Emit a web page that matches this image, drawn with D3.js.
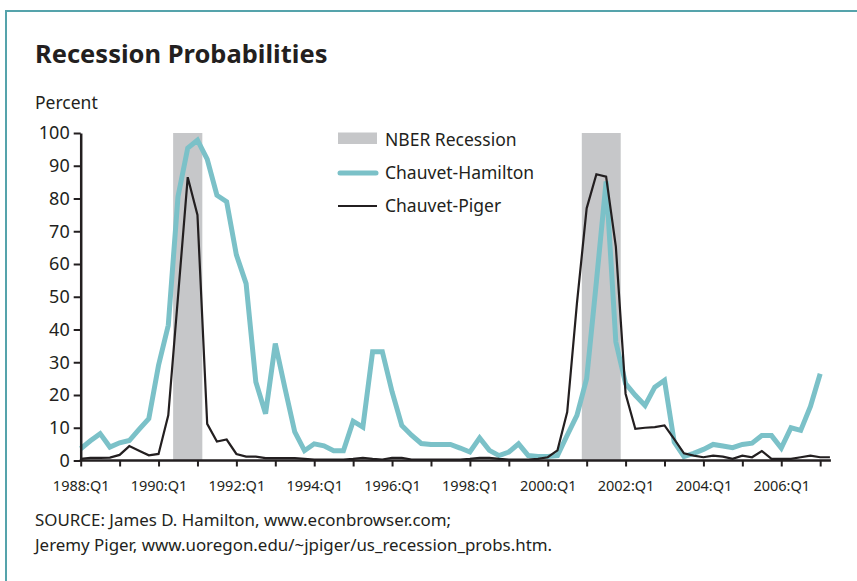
<!DOCTYPE html>
<html>
<head>
<meta charset="utf-8">
<script src="https://cdn.jsdelivr.net/npm/d3@7"></script>
<style>
  body { margin: 0; background: #fff; }
  text { font-family: "Noto Sans", "Open Sans", sans-serif; fill: #231f20; }
</style>
</head>
<body>
<script>
// quarterly recession probabilities, 1988:Q1 onward (percent)

var startYear = 1988;

var chauvetHamilton = [
  3.6, 6.0, 8.2, 4.1, 5.4, 6.1, 9.5, 12.8,      // 1988-1989
  29.1, 41.3, 80.6, 95.4, 97.8, 92, 81, 79,     // 1990-1991
  62.8, 54, 24, 14.3, 35.7, 22, 8.7, 3,         // 1992-1993
  5.1, 4.5, 3, 3, 12, 10.2, 33.2, 33.2,         // 1994-1995
  21, 10.7, 7.7, 5.2, 4.9, 4.9, 4.9, 3.8,       // 1996-1997
  2.6, 6.9, 3.1, 1.5, 2.6, 5.1, 1.5, 1.2,       // 1998-1999
  1.2, 1.5, 7.7, 13.8, 25, 54.6, 85.2, 36.2,    // 2000-2001
  23.5, 19.9, 16.8, 22.4, 24.5, 5.6, 1.2, 2.2,  // 2002-2003
  3.4, 4.9, 4.4, 3.9, 4.9, 5.3, 7.6, 7.6,       // 2004-2005
  3.8, 10, 9.2, 16.5, 26.5                      // 2006-2007:Q1
];

var chauvetPiger = [
  0.5, 0.8, 0.8, 0.9, 1.7, 4.4, 3.0, 1.6,
  2.0, 13.8, 50, 86.5, 75, 11.2, 5.8, 6.4,
  2.0, 1.2, 1.2, 0.7, 0.7, 0.7, 0.7, 0.5,
  0.3, 0.3, 0.3, 0.3, 0.5, 0.8, 0.5, 0.3,
  0.8, 0.8, 0.3, 0.3, 0.3, 0.3, 0.3, 0.3,
  0.5, 0.8, 0.8, 0.5, 0.3, 0.3, 0.3, 0.5,
  1.0, 3.1, 14.8, 48, 77, 87.4, 86.7, 65.3,
  20.4, 9.7, 10, 10.2, 10.7, 6.5, 2.2, 1.5,
  1.0, 1.5, 1.2, 0.5, 1.5, 1.0, 2.9, 0.5,
  0.5, 0.5, 1.0, 1.5, 1.0, 1.0                  // to 2007:Q2
];

var recessions = [
  ['1990:Q3', '1991:Q1'],
  ['2001:Q1', '2001:Q4']
];

var yTicks = [0, 10, 20, 30, 40, 50, 60, 70, 80, 90, 100];
var xTickLabels = ['1988:Q1', '1990:Q1', '1992:Q1', '1994:Q1', '1996:Q1',
  '1998:Q1', '2000:Q1', '2002:Q1', '2004:Q1', '2006:Q1'];

var quarters = [];
for (var q = 0; q < 78; q++) {
  quarters.push((startYear + Math.floor(q / 4)) + ':Q' + (q % 4 + 1));
}
var qIndex = function(label) { return quarters.indexOf(label); };

var tealColor = '#7bc1c8';
var darkColor = '#231f20';

var svg = d3.select('body').append('svg')
  .attr('width', 857)
  .attr('height', 581)

// frame
svg.append('rect')
  .attr('x', 6)
  .attr('y', 11)
  .attr('width', 900)
  .attr('height', 600)
  .attr('fill', 'none')
  .attr('stroke', '#55a3ab')
  .attr('stroke-width', 2)

svg.append('text')
  .attr('x', 35)
  .attr('y', 63)
  .attr('font-size', 25.5)
  .attr('font-weight', 'bold')
  .text('Recession Probabilities')

svg.append('text')
  .attr('x', 35)
  .attr('y', 109)
  .attr('font-size', 17.5)
  .text('Percent')

var x = d3.scaleLinear()
  .domain([0, quarters.length - 1])
  .range([80.7, 80.7 + 77 * 9.73])

var y = d3.scaleLinear()
  .domain([0, 100])
  .range([460.5, 133])

// NBER shading
svg.selectAll('rect.rec')
  .data(recessions)
  .enter().append('rect')
  .attr('class', 'rec')
  .attr('x', function(d) { return x(qIndex(d[0]) - 0.5) })
  .attr('width', function(d) { return x(qIndex(d[1]) + 0.5) - x(qIndex(d[0]) - 0.5) })
  .attr('y', y(100))
  .attr('height', y(0) - y(100))
  .attr('fill', '#c6c7c9')

var line = d3.line()
  .x(function(d, i) { return x(i) })
  .y(function(d) { return y(d) })

svg.append('path')
  .datum(chauvetHamilton)
  .attr('d', line)
  .attr('fill', 'none')
  .attr('stroke', tealColor)
  .attr('stroke-width', 5)
  .attr('stroke-linejoin', 'miter')

svg.append('path')
  .datum(chauvetPiger)
  .attr('d', line)
  .attr('fill', 'none')
  .attr('stroke', darkColor)
  .attr('stroke-width', 2.2)

// axes
var yAxis = svg.append('g')
  .attr('transform', 'translate(' + x(0) + ',0)')
  .call(d3.axisLeft(y).tickValues(yTicks).tickSize(7).tickPadding(4).tickSizeOuter(0))

yAxis.select('.domain').attr('stroke', darkColor).attr('stroke-width', 2.5)
yAxis.selectAll('.tick line').attr('stroke', darkColor).attr('stroke-width', 2)
yAxis.selectAll('.tick text')
  .attr('font-size', 18)
  .attr('font-family', '"Noto Sans", sans-serif')
  .attr('fill', darkColor)

var xTickVals = d3.range(0, quarters.length, 4);
var xAxis = svg.append('g')
  .attr('transform', 'translate(0,' + y(0) + ')')
  .call(d3.axisBottom(x).tickValues(xTickVals).tickSize(6).tickSizeOuter(0)
    .tickFormat(function(d) {
      return xTickLabels.indexOf(quarters[d]) >= 0 ? quarters[d] : '';
    }))

xAxis.select('.domain')
  .attr('d', 'M' + (x(0) - 1) + ',0H' + (x(quarters.length - 1) + 1))
  .attr('stroke', darkColor).attr('stroke-width', 2.5)
xAxis.selectAll('.tick line').attr('stroke', darkColor).attr('stroke-width', 2)
xAxis.selectAll('.tick text')
  .attr('y', 20)
  .attr('font-size', 14.5)
  .attr('font-family', '"Noto Sans", sans-serif')
  .attr('fill', darkColor)

// legend
var legend = svg.append('g')

legend.append('rect')
  .attr('x', 338)
  .attr('y', 132.5)
  .attr('width', 39)
  .attr('height', 11.5)
  .attr('fill', '#c6c7c9')

legend.append('line')
  .attr('x1', 340).attr('x2', 376)
  .attr('y1', 173).attr('y2', 173)
  .attr('stroke', tealColor)
  .attr('stroke-width', 5)
  .attr('stroke-linecap', 'round')

legend.append('line')
  .attr('x1', 338).attr('x2', 377)
  .attr('y1', 206).attr('y2', 206)
  .attr('stroke', darkColor)
  .attr('stroke-width', 2.2)

legend.selectAll('text')
  .data(['NBER Recession', 'Chauvet-Hamilton', 'Chauvet-Piger'])
  .enter().append('text')
  .attr('x', 385)
  .attr('y', function(d, i) { return 140 + i * 33 })
  .attr('dy', '0.35em')
  .attr('font-size', 17.5)
  .text(function(d) { return d })

// source note
svg.selectAll('text.src')
  .data(['SOURCE:  James D. Hamilton, www.econbrowser.com;',
    'Jeremy Piger, www.uoregon.edu/~jpiger/us_recession_probs.htm.'])
  .enter().append('text')
  .attr('class', 'src')
  .attr('x', 35)
  .attr('y', function(d, i) { return 526 + i * 25 })
  .attr('font-size', 16.9)
  .text(function(d) { return d })
</script>
</body>
</html>
